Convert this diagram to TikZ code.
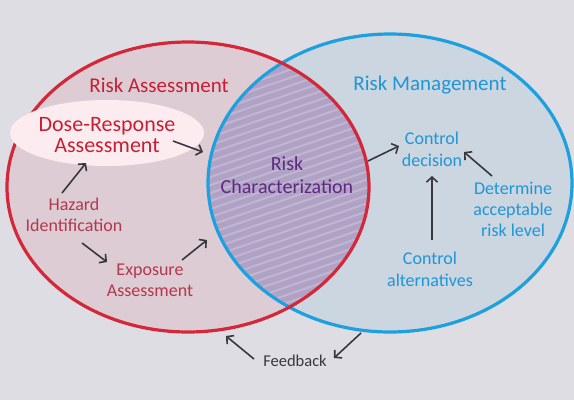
\documentclass[tikz,border=0pt]{standalone}
\usepackage{fontspec}
\setmainfont{Carlito}
\usepackage{tikz}
\usetikzlibrary{arrows.meta,positioning,shapes.geometric,calc}
\definecolor{bg}{RGB}{221,221,227}
\definecolor{rared}{RGB}{212,40,58}
\definecolor{ratext}{RGB}{200,30,52}
\definecolor{hztext}{RGB}{180,55,78}
\definecolor{rafill}{RGB}{221,204,212}
\definecolor{rmblue}{RGB}{30,160,222}
\definecolor{rmtext}{RGB}{30,150,215}
\definecolor{rmfill}{RGB}{203,214,224}
\definecolor{lens}{RGB}{176,162,197}
\definecolor{lenstext}{RGB}{95,40,130}
\definecolor{dosefill}{RGB}{253,236,239}
\definecolor{arrowgray}{RGB}{55,55,60}

\begin{document}
\begin{tikzpicture}[
  x=1pt,y=-1pt,
  every node/.style={align=center,inner sep=0pt},
  title/.style={font=\fontsize{21}{24}\selectfont},
  item/.style={font=\fontsize{18}{21}\selectfont},
  arr/.style={draw=arrowgray,line width=1.6pt,-{Straight Barb[length=5pt,width=11pt]}},
]
  \useasboundingbox (0,0) rectangle (574,400);
  \fill[bg] (0,0) rectangle (574,400);

  % the two sets
  \fill[rafill] (188,187) ellipse [x radius=181pt,y radius=145pt];
  \fill[rmfill] (390,183) ellipse [x radius=182pt,y radius=149pt];
  \begin{scope}
    \clip (188,187) ellipse [x radius=181pt,y radius=145pt];
    \clip (390,183) ellipse [x radius=182pt,y radius=149pt];
    \fill[lens] (190,20) rectangle (380,340);
    \foreach \k in {0,...,40}
      \draw[white,opacity=0.22,line width=2pt] (190,40+\k*8) -- (380,-25+\k*8);
  \end{scope}
  \draw[rmblue,line width=3.2pt] (390,183) ellipse [x radius=182pt,y radius=149pt];
  \draw[rared,line width=3.2pt] (188,187) ellipse [x radius=181pt,y radius=145pt];

  \node[ellipse,fill=dosefill,minimum width=194pt,minimum height=66pt] (doseback) at (107,133) {};

  \node[title,text=ratext] (ratitle) at (159,85) {Risk Assessment};
  \node[title,text=rmtext] (rmtitle) at (430,85) {Risk Management};
  \node[font=\fontsize{22}{21}\selectfont,text=ratext] (dose) at (107,135) {Dose-Response\\Assessment};
  \node[item,text=hztext] (hazard) at (74,215) {Hazard\\Identification};
  \node[item,text=hztext] (expo) at (150,280) {Exposure\\Assessment};
  \node[font=\fontsize{20}{23}\selectfont,text=lenstext] (char) at (287,175) {Risk\\Characterization};
  \node[item,text=rmtext,font=\fontsize{18}{22}\selectfont] (decision) at (432,149) {Control\\decision};
  \node[item,text=rmtext] (accept) at (513,209) {Determine\\acceptable\\risk level};
  \node[item,text=rmtext,font=\fontsize{18}{22}\selectfont] (alts) at (430,269) {Control\\alternatives};
  \node[font=\fontsize{16.5}{20}\selectfont,text=arrowgray] (feedback) at (295,361) {Feedback};

  \coordinate (lensa) at (203,152);
  \coordinate (lensb) at (207,240);
  \coordinate (raedge) at (226,336);
  \coordinate (rmedge) at (334,358);

  \draw[arr] ($(dose)+(66,6)$) -- (lensa);
  \draw[arr] ($(hazard)+(-12,-22)$) -- ($(doseback)+(-21,30)$);
  \draw[arr] ($(hazard)+(8,28)$) -- ($(expo)+(-43,-18)$);
  \draw[arr] ($(expo)+(32,-20)$) -- (lensb);
  \draw[arr] ($(char)+(81,-14)$) -- ($(decision)+(-33,-3)$);
  \draw[arr] ($(alts)+(2,-29)$) -- ($(decision)+(0,27)$);
  \draw[arr] ($(accept)+(-21,-33)$) -- ($(decision)+(32,3)$);
  \draw[arr] ($(feedback)+(-41,-2)$) -- (raedge);
  \draw[arr] ($(feedback)+(66,-28)$) -- (rmedge);
\end{tikzpicture}
\end{document}
